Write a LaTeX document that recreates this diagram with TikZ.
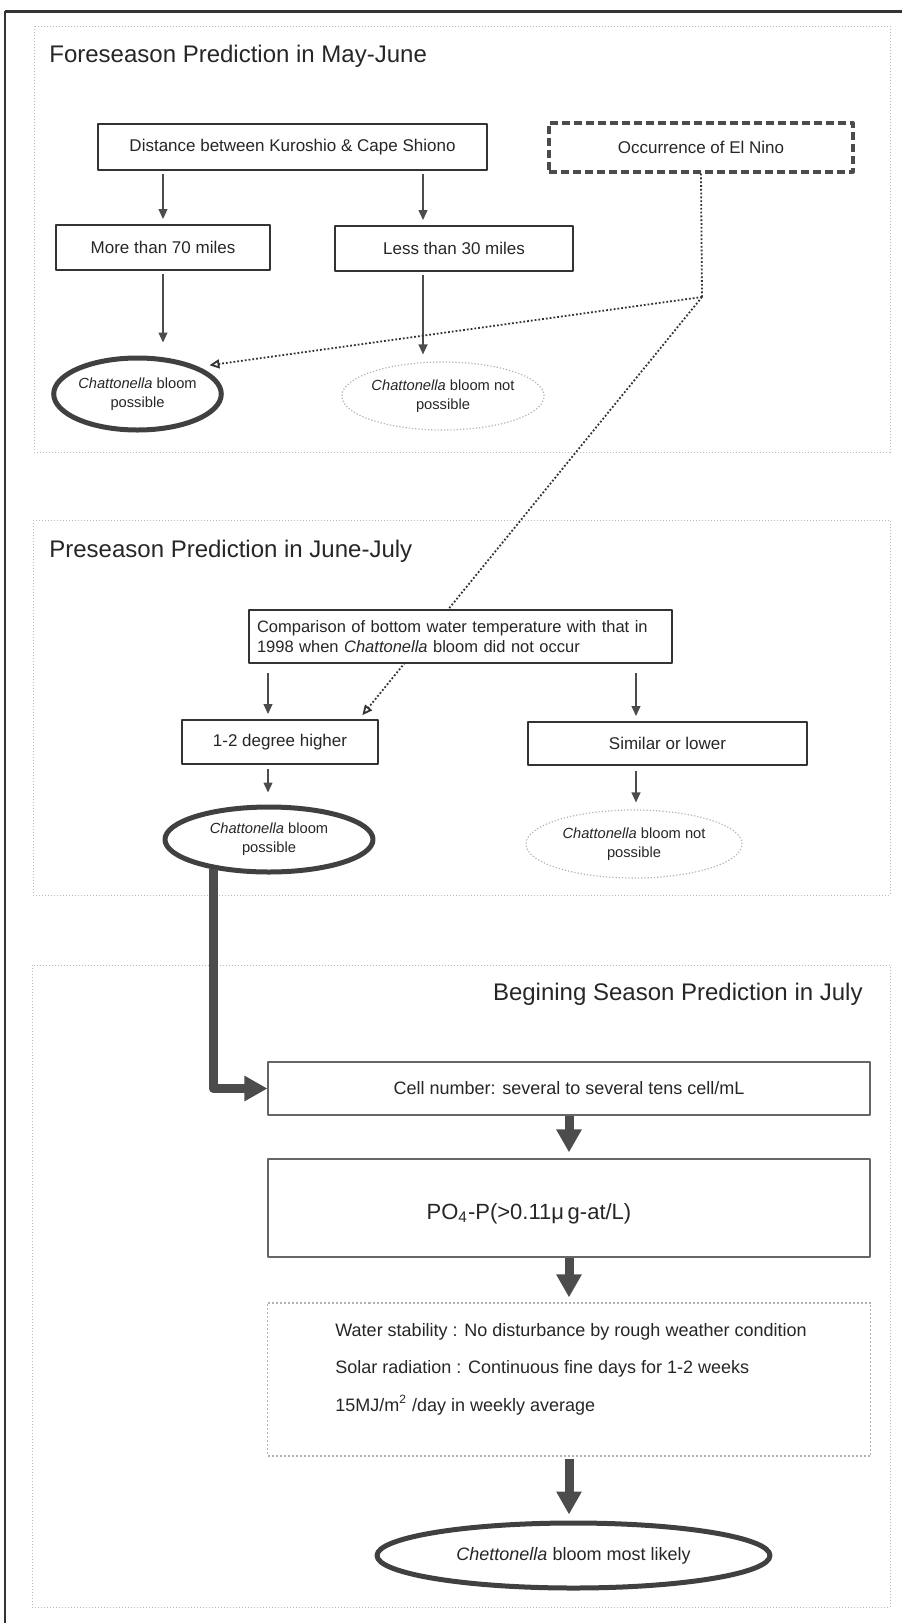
\documentclass[tikz,border=0pt]{standalone}
\usepackage{fontspec}
\setmainfont{Liberation Sans}
\usetikzlibrary{arrows.meta,shapes.geometric,calc}
\begin{document}
\begin{tikzpicture}[x=0.5pt, y=-0.5pt, line join=round, >={Triangle[length=5pt,width=4.5pt]},
	txt/.style={text=black!85, font=\fontsize{8.5pt}{10pt}\selectfont},
	title/.style={txt, inner sep=0pt, font=\fontsize{12pt}{14pt}\selectfont},
	panel/.style={draw=gray!55, densely dotted, line width=0.5pt},
	box/.style={txt, rectangle, draw=black!80, line width=1pt, inner sep=0pt},
	hot/.style={txt, ellipse, draw=black!75, line width=2.5pt, inner sep=0pt, align=center, font=\fontsize{7.35pt}{9.5pt}\selectfont},
	cold/.style={txt, ellipse, draw=gray!60, densely dotted, line width=0.6pt, inner sep=0pt, align=center, font=\fontsize{7.35pt}{9.5pt}\selectfont},
	arr/.style={->, draw=black!70, line width=0.6pt},
	dots/.style={draw=black!80, line width=0.9pt, densely dotted},
	fat/.style={draw=black!70, line width=4.5pt, -{Triangle[length=11.5pt,width=12pt]}}]
\useasboundingbox (0,0) rectangle (902,1623);
\draw[black!80, line width=1.5pt] (5,11) -- (902,11);
\draw[black!80, line width=1pt] (5,11) -- (5,1623);
			\draw[panel] (34,26) rectangle (890,452);
			\draw[panel] (33,520) rectangle (890,895);
			\draw[panel] (32,965) rectangle (890,1607);
			\node[title, anchor=base west] (t1) at (49,62) {Foreseason Prediction in May-June};
			\node[title, anchor=base west] (t2) at (49,557) {Preseason Prediction in June-July};
			\node[title, anchor=base east] (t3) at (863,1000) {Begining Season Prediction in July};
% foreseason
			\node[box, minimum width=194.5pt, minimum height=23pt] (dist) at (292.5,147) {Distance between Kuroshio \& Cape Shiono};
			\node[box, draw=black!70, line width=1.65pt, dash pattern=on 4pt off 2pt, minimum width=152pt, minimum height=24.5pt] (nino) at (701,147.5) {Occurrence of El Nino};
			\node[box, minimum width=107pt, minimum height=22.5pt] (more) at (163,247.5) {More than 70 miles};
			\node[box, minimum width=119pt, minimum height=22.5pt] (less) at (454,248.5) {Less than 30 miles};
			\node[hot, minimum width=82.5pt, minimum height=36pt] (poss1) at (137.5,394) {\textit{Chattonella} bloom\\possible};
			\node[cold, minimum width=101pt, minimum height=34pt] (not1) at (443,396) {\textit{Chattonella} bloom not\\possible};
			\coordinate (a2) at ($(less.north)+(-31,0)$);
			\draw[arr, shorten <=1.5pt, shorten >=2.5pt] (dist.south -| more.north) -- (more.north);
			\draw[arr, shorten <=1.5pt, shorten >=2.5pt] (dist.south -| a2) -- (a2);
			\draw[arr, shorten <=1.5pt, shorten >=6.5pt] (more.south) -- (more.south |- poss1.north);
			\draw[arr, shorten <=1.5pt, shorten >=3.5pt] (a2 |- less.south) -- (a2 |- not1.north);
% preseason
			\node[box, minimum width=98pt, minimum height=22pt] (high) at (280,742) {1-2 degree higher};
			\node[box, minimum width=139.5pt, minimum height=21.5pt] (sim) at (667.5,743.5) {Similar or lower};
			\node[hot, minimum width=104pt, minimum height=32.5pt] (poss2) at (269,839.5) {\textit{Chattonella} bloom\\possible};
			\node[cold, minimum width=108pt, minimum height=34pt] (not2) at (634,844) {\textit{Chattonella} bloom not\\possible};
% El Nino link
			\coordinate (bend) at (702,297);
			\draw[dots] (nino.south) -- (bend);
			\draw[dots, ->, >={Triangle[open,length=5pt,width=4.5pt]}, shorten >=5.5pt] (bend) -- (poss1.north east);
			\draw[dots, ->, >={Triangle[open,length=5pt,width=4.5pt]}, shorten >=2.5pt] (bend) -- ($(high.north)!0.8!(high.north east)$);
			\node[box, fill=white, text width=203.5pt, inner xsep=4pt, minimum height=26.5pt, align=left, font=\fontsize{8.25pt}{10pt}\selectfont] (comp) at (460.5,636.5) {Comparison of bottom water temperature with that in\\1998 when \textit{Chattonella} bloom did not occur};
			\coordinate (b1) at ($(high.north)+(-12,0)$);
			\coordinate (b2) at ($(sim.north)+(-31.5,0)$);
			\draw[arr, shorten <=4.5pt, shorten >=2.5pt] (comp.south -| b1) -- (b1);
			\draw[arr, shorten <=4.5pt, shorten >=2.5pt] (comp.south -| b2) -- (b2);
			\draw[arr, shorten <=2pt, shorten >=6pt] (b1 |- high.south) -- (b1 |- poss2.north);
			\draw[arr, shorten <=2.5pt, shorten >=3.5pt] (b2 |- sim.south) -- (b2 |- not2.north);
% begining season
			\node[box, draw=black!60, line width=0.6pt, minimum width=301pt, minimum height=26.5pt, font=\fontsize{9pt}{11pt}\selectfont] (cell) at (569,1088.5) {Cell number: several to several tens cell/mL};
			\node[box, draw=black!60, line width=0.6pt, minimum width=301pt, minimum height=49pt] (po4) at (569,1208) {};
			\node[txt, font=\fontsize{11pt}{13pt}\selectfont] (po4t) at (529,1214) {PO\textsubscript{4}-P(>0.11μ\,g-at/L)};
			\node[box, draw=gray!60, densely dotted, line width=0.6pt, minimum width=301.5pt, minimum height=76.5pt] (water) at (569,1379.5) {};
			\node[txt, anchor=west, inner sep=0pt, align=left, font=\fontsize{9pt}{18.75pt}\selectfont] (watert) at (335,1369) {Water stability : No disturbance by rough weather condition\\Solar radiation : Continuous fine days for 1-2 weeks\\15MJ/m\textsuperscript{2} /day in weekly average};
			\node[hot, minimum width=196.5pt, minimum height=32.5pt, font=\fontsize{9pt}{11pt}\selectfont] (likely) at (573.5,1555.5) {\textit{Chettonella} bloom most likely};
			\draw[fat] (poss2.208) |- (cell.west);
			\draw[fat, shorten >=3pt] (cell.south) -- (po4.north);
			\draw[fat, shorten >=2.5pt] (po4.south) -- (water.north);
			\draw[fat, shorten <=1pt, shorten >=3pt] (water.south) -- (water.south |- likely.north);
		\end{tikzpicture}
\end{document}
